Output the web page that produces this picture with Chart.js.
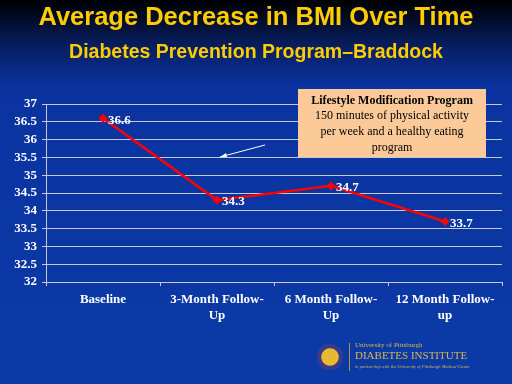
<!DOCTYPE html>
<html>
<head>
<meta charset="utf-8">
<script src="https://cdn.jsdelivr.net/npm/chart.js@4"></script>
<style>
  html, body { margin: 0; padding: 0; }
  body {
    width: 512px; height: 384px; overflow: hidden; position: relative;
    background: linear-gradient(to bottom, #000000 0px, #061a55 40px, #0a33a0 85px, #0b3aa6 384px);
  }
  #wrap { position: absolute; left: 0; top: 0; width: 512px; height: 384px; }
  .title { position: absolute; left: 0; width: 512px; text-align: center; color: #ffcc00;
           font-family: "Liberation Sans", Arial, sans-serif; font-weight: bold; white-space: nowrap; }
  #t1 { top: 2px; font-size: 25.5px; }
  #t2 { top: 40px; font-size: 19.5px; }
  #seal { position: absolute; left: 317px; top: 344px; width: 26px; height: 26px; border-radius: 50%;
          background: radial-gradient(circle, #e8b830 0 45%, #3a3a8a 50% 70%, #d8c070 75% 100%); }
  #vline { position: absolute; left: 349px; top: 343px; width: 1px; height: 28px; background: #b09040; }
  .logo { position: absolute; left: 355px; color: #d8b850; font-family: "Liberation Serif", "Times New Roman", serif; white-space: nowrap; }
  #l1 { top: 341px; font-size: 7px; }
  #l2 { top: 349px; font-size: 11px; }
  #l3 { top: 364px; font-size: 4.5px; font-style: italic; }
</style>
</head>
<body>
<div id="wrap"><canvas id="chart" width="512" height="384"></canvas></div>
<div class="title" id="t1">Average Decrease in BMI Over Time</div>
<div class="title" id="t2">Diabetes Prevention Program&#8211;Braddock</div>
<div id="seal"></div>
<div id="vline"></div>
<div class="logo" id="l1">University of Pittsburgh</div>
<div class="logo" id="l2">DIABETES INSTITUTE</div>
<div class="logo" id="l3">in partnership with the University of Pittsburgh Medical Center</div>
<script>
const categories = [["Baseline"], ["3-Month Follow-", "Up"], ["6 Month Follow-", "Up"], ["12 Month Follow-", "up"]];
const bmiValues = [36.6, 34.3, 34.7, 33.7];
const yMin = 32, yMax = 37, yStep = 0.5;

const serif = "'Liberation Serif', 'Times New Roman', serif";

// value labels to the right of each point
const valueLabels = {
  id: "valueLabels",
  afterDatasetsDraw(chart) {
    const ctx = chart.ctx;
    const meta = chart.getDatasetMeta(0);
    ctx.save();
    ctx.fillStyle = "#ffffff";
    ctx.font = "bold 13px " + serif;
    ctx.textBaseline = "middle";
    ctx.textAlign = "left";
    meta.data.forEach((pt, i) => {
      ctx.fillText(bmiValues[i].toFixed(1), pt.x + 5, pt.y + 2);
    });
    ctx.restore();
  }
};

// callout box with arrow
const callout = {
  id: "callout",
  afterDraw(chart) {
    const ctx = chart.ctx;
    ctx.save();
    ctx.strokeStyle = "#ffffff";
    ctx.lineWidth = 1;
    ctx.beginPath();
    ctx.moveTo(265, 145);
    ctx.lineTo(220, 157);
    ctx.stroke();
    ctx.beginPath();
    ctx.moveTo(220, 157);
    ctx.lineTo(226, 153);
    ctx.lineTo(227, 157);
    ctx.closePath();
    ctx.fillStyle = "#ffffff";
    ctx.fill();

    ctx.fillStyle = "#fcca98";
    ctx.fillRect(298, 89, 188, 68);
    ctx.fillStyle = "#000000";
    ctx.textAlign = "center";
    ctx.textBaseline = "middle";
    ctx.font = "bold 12px " + serif;
    ctx.fillText("Lifestyle Modification Program", 392, 101);
    ctx.font = "12px " + serif;
    ctx.fillText("150 minutes of physical activity", 392, 116);
    ctx.fillText("per week and a healthy eating", 392, 132);
    ctx.fillText("program", 392, 148);
    ctx.restore();
  }
};

new Chart(document.getElementById("chart").getContext("2d"), {
  type: "line",
  data: {
    labels: categories,
    datasets: [{
      data: bmiValues,
      borderColor: "#ff0000",
      backgroundColor: "#ff0000",
      borderWidth: 2.5,
      pointStyle: "rectRot",
      pointRadius: 4.5,
      pointBorderWidth: 0,
      tension: 0
    }]
  },
  options: {
    responsive: false,
    animation: false,
    layout: { padding: { left: 4, right: 10, top: 104, bottom: 0 } },
    plugins: {
      legend: { display: false },
      tooltip: { enabled: false }
    },
    scales: {
      x: {
        offset: true,
        grid: { offset: true, drawOnChartArea: false, color: "#c8c8d8", tickLength: 4 },
        border: { color: "#c8c8d8", width: 1 },
        ticks: { color: "#ffffff", font: { family: serif, size: 13, weight: "bold" }, padding: 6, maxRotation: 0 },
        afterFit(s) { s.height = 102; }
      },
      y: {
        min: yMin,
        max: yMax,
        ticks: {
          stepSize: yStep,
          autoSkip: false,
          color: "#ffffff",
          font: { family: serif, size: 13, weight: "bold" },
          padding: 5,
          callback: v => String(v)
        },
        grid: { color: "#c8c8d8", tickLength: 4 },
        border: { color: "#c8c8d8", width: 1 },
        afterFit(s) { s.width = 42; }
      }
    }
  },
  plugins: [valueLabels, callout]
});
</script>
</body>
</html>
